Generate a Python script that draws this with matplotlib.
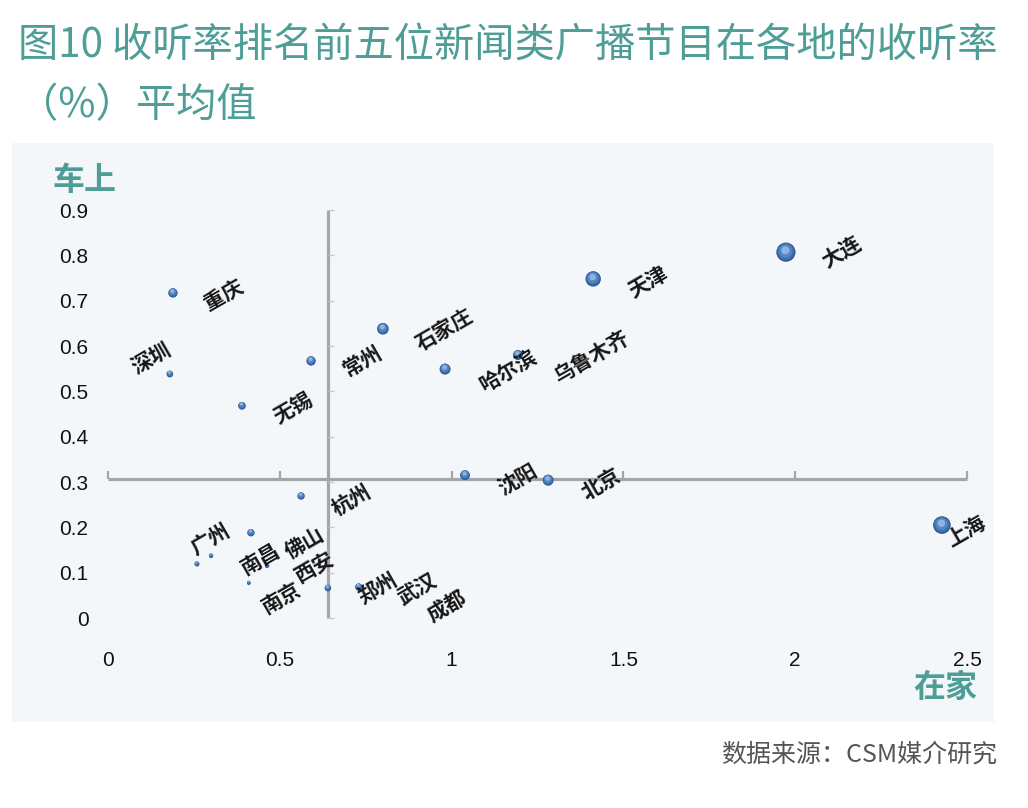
import matplotlib
matplotlib.use("Agg")
import matplotlib.pyplot as plt
from matplotlib.patches import Rectangle
from matplotlib.transforms import offset_copy
import numpy as np

plt.rcParams['font.family'] = ['Noto Sans CJK SC', 'DejaVu Sans']

# ---------------- data ----------------
cities = ['重庆', '深圳', '无锡', '常州', '石家庄', '哈尔滨', '乌鲁木齐', '天津', '大连',
          '沈阳', '北京', '上海', '杭州', '佛山', '南昌', '广州', '西安', '南京',
          '郑州', '武汉', '成都']
at_home = [0.189, 0.180, 0.390, 0.591, 0.800, 0.981, 1.193, 1.412, 1.973,
           1.039, 1.281, 2.427, 0.562, 0.416, 0.300, 0.259, 0.463, 0.410,
           0.640, 0.730, 0.838]
in_car = [0.717, 0.538, 0.468, 0.567, 0.638, 0.549, 0.580, 0.748, 0.807,
          0.315, 0.304, 0.205, 0.269, 0.188, 0.137, 0.119, 0.115, 0.077,
          0.066, 0.068, 0.029]
bubble = [0.18, 0.09, 0.12, 0.18, 0.28, 0.25, 0.20, 0.49, 0.76,
          0.20, 0.25, 0.64, 0.11, 0.11, 0.04, 0.05, 0.04, 0.03,
          0.09, 0.11, 0.0]
avg_home = 0.64
avg_car = 0.307
x_ticks = [0, 0.5, 1, 1.5, 2, 2.5]
x_tick_labels = ['0', '0.5', '1', '1.5', '2', '2.5']
y_ticks = [0, 0.1, 0.2, 0.3, 0.4, 0.5, 0.6, 0.7, 0.8, 0.9]
y_tick_labels = ['0', '0.1', '0.2', '0.3', '0.4', '0.5', '0.6', '0.7', '0.8', '0.9']

title_line1 = '图10 收听率排名前五位新闻类广播节目在各地的收听率'
title_line2 = '（%）平均值'
y_name = '车上'
x_name = '在家'
source = '数据来源：CSM媒介研究'

# label placement (pixels: right, down) relative to bubble centre
label_offsets = [(51, 2), (-19, -16), (51, 2), (51, 0), (62, 1), (63, 2), (74, 2), (55, 3), (56, 1),
                 (53, 5), (53, 4), (24, 6), (50, 4), (54, 10), (50, 3), (13, -25), (48, 1), (33, 15),
                 (50, 1), (58, 2), (51, 2)]

# ---------------- figure ----------------
W, H = 1028, 808
fig = plt.figure(figsize=(W / 100, H / 100), dpi=100)
fig.patch.set_facecolor('white')

teal = '#4E9E97'
fig.patches.append(Rectangle((12 / W, 1 - 722 / H), (994 - 12) / W, (722 - 143) / H,
                             transform=fig.transFigure, facecolor='#F4F7FA',
                             edgecolor='none', zorder=-5))

ax = fig.add_axes([108 / W, 1 - 618 / H, (967 - 108) / W, (618 - 210) / H])
ax.set_zorder(2)
ax.set_facecolor('none')
ax.set_xlim(0, 2.5)
ax.set_ylim(0, 0.9)
for s in ax.spines.values():
    s.set_visible(False)
ax.set_xticks(x_ticks)
ax.set_xticklabels(x_tick_labels)
ax.set_yticks(y_ticks)
ax.set_yticklabels(y_tick_labels)
ax.tick_params(axis='both', length=0, labelsize=15, labelcolor='#111111')
ax.tick_params(axis='x', pad=24)
ax.tick_params(axis='y', pad=14)
for lab in ax.get_xticklabels() + ax.get_yticklabels():
    lab.set_fontfamily(['Liberation Sans', 'DejaVu Sans'])

# cross axes at averages
line_col = '#A5A5A8'
ax.plot([0, 2.5], [avg_car, avg_car], color=line_col, lw=2.3, zorder=2, solid_capstyle='butt',
        clip_on=False)
ax.plot([avg_home, avg_home], [0, 0.9], color=line_col, lw=2.3, zorder=2, solid_capstyle='butt',
        clip_on=False)
ax.plot(x_ticks, [avg_car] * len(x_ticks), linestyle='none', marker=2, markersize=6,
        markeredgewidth=1.6, color=line_col, zorder=2, clip_on=False)
ax.plot([avg_home] * len(y_ticks), y_ticks, linestyle='none', marker=1, markersize=4,
        markeredgewidth=1.0, color='#C8C8CC', zorder=2, clip_on=False)

# bubbles with sphere-like shading
b = np.array(bubble)
r_px = 11.0 * np.sqrt(b)
s_base = (2 * r_px * 0.72) ** 2
layers = [(1.00, '#2D5890', 0.0), (0.80, '#3F6EAC', 0.35), (0.50, '#5585C3', 0.8),
          (0.18, '#8FB3E0', 1.3)]
for f, c, off in layers:
    tr = offset_copy(ax.transData, fig=fig, x=-off * 0.3, y=off, units='points')
    ax.scatter(at_home, in_car, s=s_base * f, color=c, edgecolors='none', zorder=3,
               clip_on=False, transform=tr)

for name, x, y, (dx, dy) in zip(cities, at_home, in_car, label_offsets):
    ax.annotate(name, (x, y), xytext=(dx * 0.72, -dy * 0.72), textcoords='offset points',
                ha='center', va='center', rotation=30, rotation_mode='anchor',
                fontsize=15, fontweight='heavy', color='#161616', zorder=4,
                annotation_clip=False)

# titles and axis names
fig.text(18 / W, 1 - 45 / H, title_line1, fontsize=29, color=teal, ha='left', va='center',
         fontweight='light')
fig.text(18 / W, 1 - 106 / H, title_line2, fontsize=29, color=teal, ha='left', va='center',
         fontweight='light')
fig.text(84 / W, 1 - 181 / H, y_name, fontsize=23, color=teal, ha='center', va='center',
         fontweight='bold')
fig.text(945 / W, 1 - 688 / H, x_name, fontsize=23, color=teal, ha='center', va='center',
         fontweight='bold')
fig.text(997 / W, 1 - 755 / H, source, fontsize=18, color='#555555', ha='right', va='center',
         fontweight='light')

fig.savefig('out.png', dpi=100, facecolor='white')
